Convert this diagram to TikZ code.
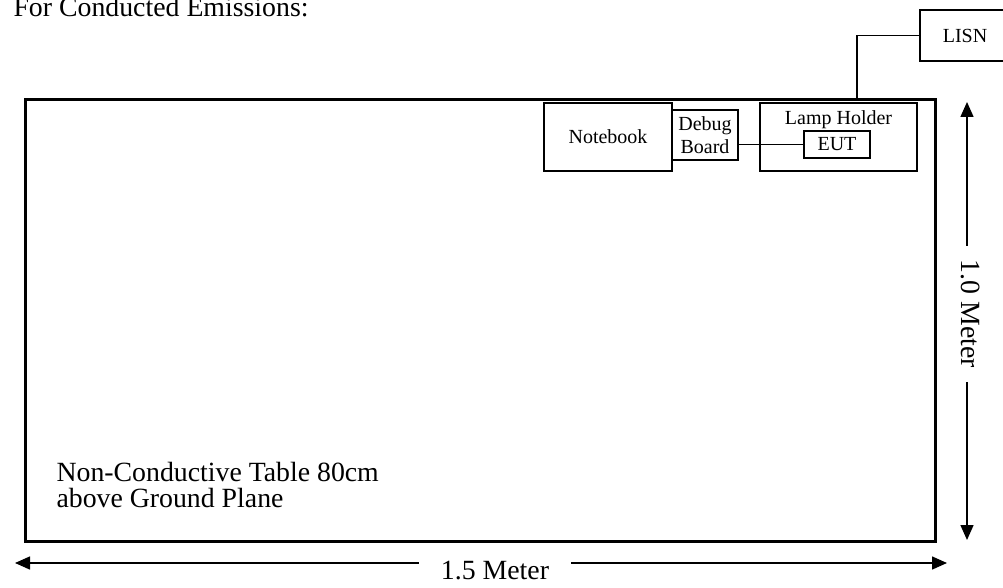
\documentclass[tikz,border=0pt]{standalone}
\usepackage{fontspec}
\setmainfont{Liberation Serif}
\usetikzlibrary{positioning,arrows.meta}
\tikzset{
  >={Triangle[length=15pt,width=13pt]},
}

\begin{document}
\begin{tikzpicture}[
  x=1pt,y=-1pt,
  box/.style={draw, line width=1.5pt, inner sep=0pt},
  small/.style={font=\fontsize{20}{23}\selectfont},
  big/.style={font=\fontsize{27.8}{26}\selectfont},
  dim/.style={line width=1.5pt}
]
\useasboundingbox (0,0) rectangle (1003,588);

\node[big, anchor=base west] (title) at (10,17) {For Conducted Emissions:};

% table
\node[draw, line width=3pt, minimum width=910pt, minimum height=441pt] (table) at (480,320.5) {};
\node[big, anchor=base west] (note1) at (53,481) {Non-Conductive Table 80cm};
\node[big, anchor=base west] (note2) at ([yshift=-26pt]note1.base west) {above Ground Plane};

% equipment
\node[box, small, minimum width=128pt, minimum height=68pt] (notebook) at (608,137) {Notebook};
\node[box, small, minimum width=66pt, minimum height=50pt, align=center] (debug) at (705,135) {Debug\\Board};
\node[box, minimum width=157pt, minimum height=68pt] (lamp) at (838.5,137) {};
\node[small, anchor=base] (lamplabel) at ([yshift=-22pt]lamp.north) {Lamp Holder};
\node[box, small, minimum width=66pt, minimum height=27pt] (eut) at (837,144.5) {EUT};
\node[box, small, minimum width=90pt, minimum height=51pt] (lisn) at (965,35.5) {LISN};
\coordinate (drop) at (857,100);

\draw[line width=1.5pt] (debug.east |- eut.west) -- (eut.west);
\draw[line width=1.5pt] (lisn.west) -| (drop);

% dimensions
\coordinate (hl) at (15,563);
\coordinate (hr) at (947,563);
\node[big, inner xsep=22pt] (len15) at (495,571) {1.5 Meter};
\draw[dim,->] (len15.west |- hl) -- (hl);
\draw[dim,->] (len15.east |- hr) -- (hr);

\coordinate (vt) at (967,102);
\coordinate (vb) at (967,540);
\node[big, rotate=-90, inner xsep=14pt] (len10) at (971,314) {1.0 Meter};
\draw[dim,->] (vt |- len10.west) -- (vt);
\draw[dim,->] (vb |- len10.east) -- (vb);
\end{tikzpicture}
\end{document}
